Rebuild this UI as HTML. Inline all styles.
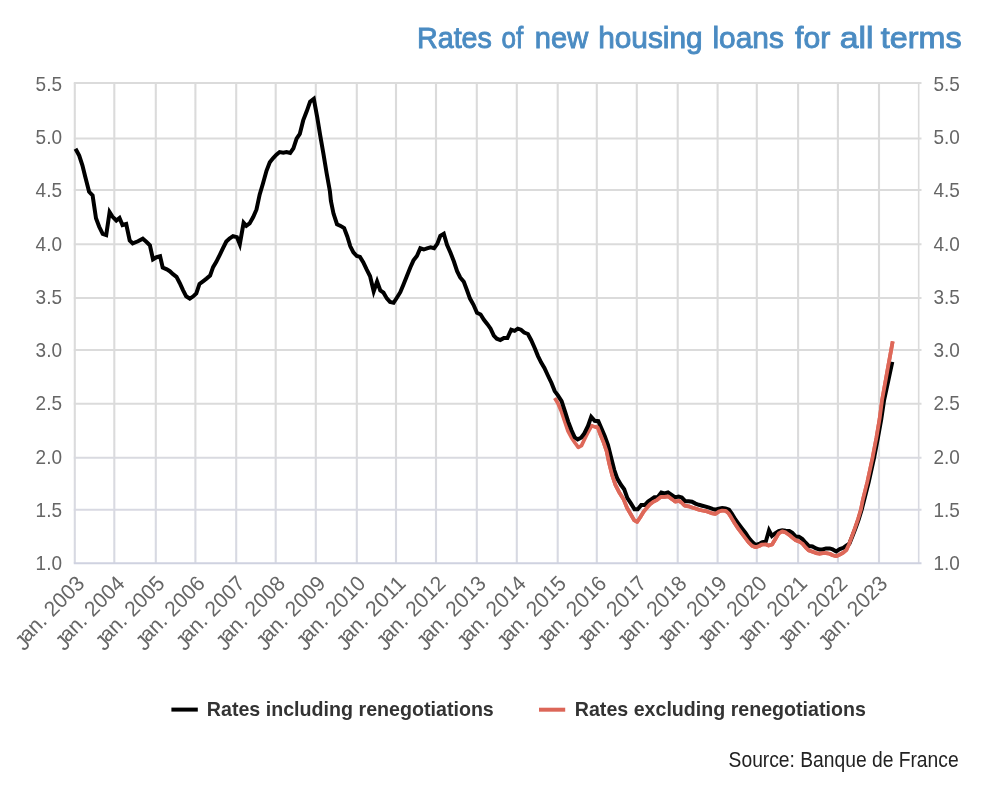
<!DOCTYPE html>
<html><head><meta charset="utf-8"><title>Rates of new housing loans for all terms</title>
<style>html,body{margin:0;padding:0;background:#fff}svg{display:block;will-change:transform}text{font-family:"Liberation Sans",sans-serif}</style></head><body>
<svg width="1000" height="792" viewBox="0 0 1000 792">
<rect width="1000" height="792" fill="#fff"/>
<g font-size="29.5" fill="#4a8bc2" stroke="#4a8bc2" stroke-width="0.9">
<text x="416.97" y="47.8" textLength="74.93" lengthAdjust="spacingAndGlyphs">Rates</text>
<text x="501.58" y="47.8" textLength="21.72" lengthAdjust="spacingAndGlyphs">of</text>
<text x="534.81" y="47.8" textLength="53.41" lengthAdjust="spacingAndGlyphs">new</text>
<text x="598.18" y="47.8" textLength="104.52" lengthAdjust="spacingAndGlyphs">housing</text>
<text x="712.48" y="47.8" textLength="71.34" lengthAdjust="spacingAndGlyphs">loans</text>
<text x="795.06" y="47.8" textLength="35.23" lengthAdjust="spacingAndGlyphs">for</text>
<text x="839.74" y="47.8" textLength="33.72" lengthAdjust="spacingAndGlyphs">all</text>
<text x="880.88" y="47.8" textLength="80.8" lengthAdjust="spacingAndGlyphs">terms</text>
</g>
<defs><linearGradient id="vg" gradientUnits="userSpaceOnUse" x1="0" y1="82.9" x2="0" y2="563.2"><stop offset="0" stop-color="#dbdbdb"/><stop offset="0.72" stop-color="#dbdbdb"/><stop offset="0.86" stop-color="#d9dae1"/><stop offset="1" stop-color="#d7d9e2"/></linearGradient></defs>
<g stroke="url(#vg)" stroke-width="2.1" fill="none">
<path d="M74.8 82.9V563.2"/>
<path d="M114.3 82.9V563.2"/>
<path d="M155.8 82.9V563.2"/>
<path d="M195.4 82.9V563.2"/>
<path d="M236.2 82.9V563.2"/>
<path d="M275.7 82.9V563.2"/>
<path d="M315.8 82.9V563.2"/>
<path d="M356.8 82.9V563.2"/>
<path d="M396.0 82.9V563.2"/>
<path d="M436.0 82.9V563.2"/>
<path d="M476.8 82.9V563.2"/>
<path d="M516.8 82.9V563.2"/>
<path d="M557.7 82.9V563.2"/>
<path d="M596.8 82.9V563.2"/>
<path d="M636.8 82.9V563.2"/>
<path d="M677.7 82.9V563.2"/>
<path d="M717.6 82.9V563.2"/>
<path d="M756.8 82.9V563.2"/>
<path d="M798.1 82.9V563.2"/>
<path d="M837.9 82.9V563.2"/>
<path d="M879.0 82.9V563.2"/>
<path d="M918.7 82.9V563.2" stroke-width="1.6"/>
</g>
<g stroke-width="2" fill="none">
<path d="M73.8 82.9H921.5" stroke="#dbdbdb"/>
<path d="M73.8 138.5H921.5" stroke="#dbdbdb"/>
<path d="M73.8 190.1H921.5" stroke="#dbdbdb"/>
<path d="M73.8 244.2H921.5" stroke="#dbdbdb"/>
<path d="M73.8 298.1H921.5" stroke="#dbdbdb"/>
<path d="M73.8 349.9H921.5" stroke="#dbdbdb"/>
<path d="M73.8 403.8H921.5" stroke="#dbdbdb"/>
<path d="M73.8 457.7H921.5" stroke="#d9dae0"/>
<path d="M73.8 509.8H921.5" stroke="#d8d9e2"/>
</g>
<path d="M73.8 563.2H921.5" stroke="#cfd2e0" stroke-width="1.9" fill="none"/>
<g font-size="21" fill="#666">
<text x="62" y="90.9" text-anchor="end" textLength="26.4" lengthAdjust="spacingAndGlyphs">5.5</text>
<text x="933.5" y="90.9" textLength="26.4" lengthAdjust="spacingAndGlyphs">5.5</text>
<text x="62" y="144.1" text-anchor="end" textLength="26.4" lengthAdjust="spacingAndGlyphs">5.0</text>
<text x="933.5" y="144.1" textLength="26.4" lengthAdjust="spacingAndGlyphs">5.0</text>
<text x="62" y="197.4" text-anchor="end" textLength="26.4" lengthAdjust="spacingAndGlyphs">4.5</text>
<text x="933.5" y="197.4" textLength="26.4" lengthAdjust="spacingAndGlyphs">4.5</text>
<text x="62" y="250.6" text-anchor="end" textLength="26.4" lengthAdjust="spacingAndGlyphs">4.0</text>
<text x="933.5" y="250.6" textLength="26.4" lengthAdjust="spacingAndGlyphs">4.0</text>
<text x="62" y="303.8" text-anchor="end" textLength="26.4" lengthAdjust="spacingAndGlyphs">3.5</text>
<text x="933.5" y="303.8" textLength="26.4" lengthAdjust="spacingAndGlyphs">3.5</text>
<text x="62" y="357.0" text-anchor="end" textLength="26.4" lengthAdjust="spacingAndGlyphs">3.0</text>
<text x="933.5" y="357.0" textLength="26.4" lengthAdjust="spacingAndGlyphs">3.0</text>
<text x="62" y="410.3" text-anchor="end" textLength="26.4" lengthAdjust="spacingAndGlyphs">2.5</text>
<text x="933.5" y="410.3" textLength="26.4" lengthAdjust="spacingAndGlyphs">2.5</text>
<text x="62" y="463.5" text-anchor="end" textLength="26.4" lengthAdjust="spacingAndGlyphs">2.0</text>
<text x="933.5" y="463.5" textLength="26.4" lengthAdjust="spacingAndGlyphs">2.0</text>
<text x="62" y="516.7" text-anchor="end" textLength="26.4" lengthAdjust="spacingAndGlyphs">1.5</text>
<text x="933.5" y="516.7" textLength="26.4" lengthAdjust="spacingAndGlyphs">1.5</text>
<text x="62" y="570.0" text-anchor="end" textLength="26.4" lengthAdjust="spacingAndGlyphs">1.0</text>
<text x="933.5" y="570.0" textLength="26.4" lengthAdjust="spacingAndGlyphs">1.0</text>
</g>
<g font-size="21.5" fill="#666" text-anchor="end">
<g transform="translate(85.5,585.0) rotate(-45)"><text x="-80" y="3.8">J</text><text x="-52.8" textLength="29.2" lengthAdjust="spacingAndGlyphs">an.</text><text x="0.3" textLength="46.5" lengthAdjust="spacingAndGlyphs">2003</text></g>
<g transform="translate(125.7,585.0) rotate(-45)"><text x="-80" y="3.8">J</text><text x="-52.8" textLength="29.2" lengthAdjust="spacingAndGlyphs">an.</text><text x="0.3" textLength="46.5" lengthAdjust="spacingAndGlyphs">2004</text></g>
<g transform="translate(165.8,585.0) rotate(-45)"><text x="-80" y="3.8">J</text><text x="-52.8" textLength="29.2" lengthAdjust="spacingAndGlyphs">an.</text><text x="0.3" textLength="46.5" lengthAdjust="spacingAndGlyphs">2005</text></g>
<g transform="translate(205.9,585.0) rotate(-45)"><text x="-80" y="3.8">J</text><text x="-52.8" textLength="29.2" lengthAdjust="spacingAndGlyphs">an.</text><text x="0.3" textLength="46.5" lengthAdjust="spacingAndGlyphs">2006</text></g>
<g transform="translate(246.1,585.0) rotate(-45)"><text x="-80" y="3.8">J</text><text x="-52.8" textLength="29.2" lengthAdjust="spacingAndGlyphs">an.</text><text x="0.3" textLength="46.5" lengthAdjust="spacingAndGlyphs">2007</text></g>
<g transform="translate(286.2,585.0) rotate(-45)"><text x="-80" y="3.8">J</text><text x="-52.8" textLength="29.2" lengthAdjust="spacingAndGlyphs">an.</text><text x="0.3" textLength="46.5" lengthAdjust="spacingAndGlyphs">2008</text></g>
<g transform="translate(326.4,585.0) rotate(-45)"><text x="-80" y="3.8">J</text><text x="-52.8" textLength="29.2" lengthAdjust="spacingAndGlyphs">an.</text><text x="0.3" textLength="46.5" lengthAdjust="spacingAndGlyphs">2009</text></g>
<g transform="translate(366.6,585.0) rotate(-45)"><text x="-80" y="3.8">J</text><text x="-52.8" textLength="29.2" lengthAdjust="spacingAndGlyphs">an.</text><text x="0.3" textLength="46.5" lengthAdjust="spacingAndGlyphs">2010</text></g>
<g transform="translate(406.7,585.0) rotate(-45)"><text x="-80" y="3.8">J</text><text x="-52.8" textLength="29.2" lengthAdjust="spacingAndGlyphs">an.</text><text x="0.3" textLength="46.5" lengthAdjust="spacingAndGlyphs">2011</text></g>
<g transform="translate(446.8,585.0) rotate(-45)"><text x="-80" y="3.8">J</text><text x="-52.8" textLength="29.2" lengthAdjust="spacingAndGlyphs">an.</text><text x="0.3" textLength="46.5" lengthAdjust="spacingAndGlyphs">2012</text></g>
<g transform="translate(487.0,585.0) rotate(-45)"><text x="-80" y="3.8">J</text><text x="-52.8" textLength="29.2" lengthAdjust="spacingAndGlyphs">an.</text><text x="0.3" textLength="46.5" lengthAdjust="spacingAndGlyphs">2013</text></g>
<g transform="translate(527.1,585.0) rotate(-45)"><text x="-80" y="3.8">J</text><text x="-52.8" textLength="29.2" lengthAdjust="spacingAndGlyphs">an.</text><text x="0.3" textLength="46.5" lengthAdjust="spacingAndGlyphs">2014</text></g>
<g transform="translate(567.3,585.0) rotate(-45)"><text x="-80" y="3.8">J</text><text x="-52.8" textLength="29.2" lengthAdjust="spacingAndGlyphs">an.</text><text x="0.3" textLength="46.5" lengthAdjust="spacingAndGlyphs">2015</text></g>
<g transform="translate(607.4,585.0) rotate(-45)"><text x="-80" y="3.8">J</text><text x="-52.8" textLength="29.2" lengthAdjust="spacingAndGlyphs">an.</text><text x="0.3" textLength="46.5" lengthAdjust="spacingAndGlyphs">2016</text></g>
<g transform="translate(647.6,585.0) rotate(-45)"><text x="-80" y="3.8">J</text><text x="-52.8" textLength="29.2" lengthAdjust="spacingAndGlyphs">an.</text><text x="0.3" textLength="46.5" lengthAdjust="spacingAndGlyphs">2017</text></g>
<g transform="translate(687.8,585.0) rotate(-45)"><text x="-80" y="3.8">J</text><text x="-52.8" textLength="29.2" lengthAdjust="spacingAndGlyphs">an.</text><text x="0.3" textLength="46.5" lengthAdjust="spacingAndGlyphs">2018</text></g>
<g transform="translate(727.9,585.0) rotate(-45)"><text x="-80" y="3.8">J</text><text x="-52.8" textLength="29.2" lengthAdjust="spacingAndGlyphs">an.</text><text x="0.3" textLength="46.5" lengthAdjust="spacingAndGlyphs">2019</text></g>
<g transform="translate(768.0,585.0) rotate(-45)"><text x="-80" y="3.8">J</text><text x="-52.8" textLength="29.2" lengthAdjust="spacingAndGlyphs">an.</text><text x="0.3" textLength="46.5" lengthAdjust="spacingAndGlyphs">2020</text></g>
<g transform="translate(808.2,585.0) rotate(-45)"><text x="-80" y="3.8">J</text><text x="-52.8" textLength="29.2" lengthAdjust="spacingAndGlyphs">an.</text><text x="0.3" textLength="46.5" lengthAdjust="spacingAndGlyphs">2021</text></g>
<g transform="translate(848.4,585.0) rotate(-45)"><text x="-80" y="3.8">J</text><text x="-52.8" textLength="29.2" lengthAdjust="spacingAndGlyphs">an.</text><text x="0.3" textLength="46.5" lengthAdjust="spacingAndGlyphs">2022</text></g>
<g transform="translate(888.5,585.0) rotate(-45)"><text x="-80" y="3.8">J</text><text x="-52.8" textLength="29.2" lengthAdjust="spacingAndGlyphs">an.</text><text x="0.3" textLength="46.5" lengthAdjust="spacingAndGlyphs">2023</text></g>
</g>
<clipPath id="cr"><rect x="595" y="300" width="355" height="300"/></clipPath>
<polyline points="554.7,398.0 557.9,403.3 561.2,410.9 564.4,420.5 568.0,431.2 571.5,437.7 575.1,443.0 578.3,447.3 581.5,445.6 584.8,438.8 588.0,432.3 591.7,425.6 594.7,426.9 597.7,427.4 600.4,434.5 603.6,442.4 606.6,451.2 609.2,463.6 612.4,476.0 615.4,484.8 619.0,491.9 623.4,498.9 627.0,507.8 630.6,514.0 634.1,520.1 637.1,521.9 640.1,517.5 643.3,512.2 646.8,507.8 650.0,504.2 653.6,501.6 657.1,499.8 661.0,496.8 664.5,496.8 668.0,496.3 671.6,498.9 675.1,501.6 679.0,500.9 681.8,502.8 684.7,505.7 688.6,506.3 692.0,507.4 695.5,508.5 698.9,509.7 702.3,510.5 705.7,511.1 709.1,512.3 712.5,513.4 715.3,513.9 718.8,511.6 722.2,510.5 725.6,510.8 728.4,513.1 731.3,517.6 734.7,523.3 738.1,528.4 741.5,533.0 744.9,537.5 748.3,542.0 752.0,545.7 755.7,547.2 759.1,546.0 761.9,544.5 765.5,544.3 768.6,545.6 772.1,544.5 775.1,539.5 778.7,533.4 782.2,531.4 785.7,532.4 789.3,534.9 792.3,537.5 795.8,540.3 798.9,541.5 802.4,543.5 805.4,547.1 809.0,550.6 812.5,551.8 816.0,553.1 819.6,553.8 822.6,553.1 826.1,553.1 829.7,553.8 832.7,555.2 836.2,556.2 839.8,554.6 843.3,552.6 846.3,550.1 848.9,544.5 851.9,536.5 854.9,528.4 858.0,519.3 861.0,509.2 862.9,499.7 867.3,482.1 872.5,458.1 876.4,437.9 879.6,418.9 882.1,400.0 887.4,370.7 892.7,341.4" fill="none" stroke="#de6859" stroke-width="3.7" stroke-linejoin="round" stroke-linecap="butt"/>
<polyline points="75.5,148.7 79.2,155.6 82.4,165.3 85.5,177.7 89.1,191.8 92.6,195.4 96.0,218.3 99.2,226.8 102.7,233.9 106.2,235.1 109.6,212.1 112.4,216.6 116.3,220.5 119.5,218.0 122.5,225.0 126.2,224.0 129.7,240.4 132.7,243.4 138.0,241.3 142.8,238.7 146.3,241.7 149.9,245.2 153.0,259.3 156.6,257.2 160.1,256.3 162.7,267.5 166.8,269.3 169.8,271.2 173.0,274.2 176.5,276.9 179.7,283.0 183.0,290.1 186.2,296.3 189.8,298.6 193.3,296.3 196.3,293.3 199.5,283.9 203.0,281.3 206.5,278.6 210.1,275.6 213.1,267.1 216.3,261.8 219.8,254.8 223.0,248.1 226.3,241.5 229.5,238.5 233.0,236.2 236.9,237.1 239.8,244.3 243.6,222.8 246.3,225.9 249.6,223.4 253.2,217.0 256.5,209.5 259.7,194.4 262.9,183.7 266.5,170.8 269.8,162.3 273.2,158.0 276.4,154.7 279.6,152.0 283.3,152.6 286.5,152.0 290.2,153.0 293.4,148.3 296.6,138.6 299.8,133.9 303.2,120.4 306.9,110.8 310.1,101.7 313.8,98.9 317.2,117.2 320.2,135.4 323.4,153.7 326.6,173.0 329.9,191.2 330.9,200.9 333.5,213.6 337.0,224.2 340.6,225.9 344.1,228.1 347.3,236.5 350.3,246.3 353.4,252.4 356.8,256.0 360.0,256.9 363.2,262.2 366.5,269.2 370.1,276.3 372.0,284.2 373.7,291.4 377.1,281.5 380.3,290.4 383.5,292.7 386.8,298.4 390.0,301.9 393.6,302.8 396.7,298.0 400.3,292.2 403.6,284.2 406.8,276.3 410.3,267.5 413.5,260.4 416.9,256.0 420.3,248.3 423.8,249.5 427.0,248.3 430.6,247.4 434.1,248.3 437.3,243.9 440.3,235.9 443.8,233.8 447.0,244.7 450.5,252.7 453.9,261.5 457.1,271.2 460.2,277.4 463.8,281.8 466.8,289.8 470.0,298.6 473.5,304.8 477.0,312.8 480.6,314.5 483.9,319.8 487.4,324.2 490.6,328.7 493.8,335.7 496.8,338.7 500.3,340.1 503.9,338.0 507.4,338.0 511.2,329.7 514.6,330.8 517.8,328.7 521.0,329.7 524.2,332.5 527.9,334.0 531.1,340.0 534.8,348.2 538.0,356.1 541.2,362.6 544.4,367.9 547.9,375.5 551.5,383.0 554.7,391.1 557.9,395.4 561.6,401.2 564.8,410.9 568.2,421.6 571.5,430.2 574.7,437.3 577.7,439.4 581.1,437.7 584.3,433.4 588.0,426.0 591.2,416.8 594.7,420.8 598.3,421.2 601.4,428.3 604.8,436.2 608.0,445.1 611.1,457.4 614.2,469.8 617.3,478.6 620.9,484.8 624.2,489.2 627.4,498.1 630.9,503.4 634.5,509.2 637.7,509.2 641.2,505.1 644.7,505.1 648.1,501.6 651.3,499.3 654.4,497.2 657.8,496.9 661.3,492.5 664.5,493.4 668.0,492.5 671.6,494.8 675.1,497.4 678.6,496.5 681.8,497.4 685.2,501.2 688.6,501.2 692.0,501.7 695.5,503.6 698.9,504.8 702.3,505.7 705.7,506.6 709.1,507.7 712.5,508.9 715.3,509.7 718.8,508.6 722.2,508.1 725.6,508.4 729.0,509.7 731.8,513.6 735.2,519.3 738.6,523.9 742.0,528.4 745.5,533.0 748.9,538.1 752.3,542.0 755.7,544.9 759.1,543.9 761.9,542.4 765.9,541.2 769.0,530.4 771.9,536.0 775.1,533.4 778.7,531.2 782.2,530.2 785.7,530.7 789.3,530.9 792.3,532.9 795.8,536.6 798.9,536.7 802.4,539.0 805.4,542.5 809.0,546.1 812.5,546.4 816.0,548.4 819.6,549.6 822.6,549.5 826.1,548.4 829.7,548.4 832.7,549.4 836.2,551.4 839.8,549.1 843.3,547.8 846.3,545.6 849.4,543.6 852.4,536.3 855.5,528.4 858.7,519.3 861.8,509.2 864.2,499.7 868.7,482.1 874.0,458.1 877.9,437.9 881.3,418.9 884.1,400.0 888.2,381.0 892.3,361.8" fill="none" stroke="#000" stroke-width="4.0" stroke-linejoin="miter" stroke-miterlimit="10" stroke-linecap="butt"/>
<polyline points="554.7,398.0 557.9,403.3 561.2,410.9 564.4,420.5 568.0,431.2 571.5,437.7 575.1,443.0 578.3,447.3 581.5,445.6 584.8,438.8 588.0,432.3 591.7,425.6 594.7,426.9 597.7,427.4 600.4,434.5 603.6,442.4 606.6,451.2 609.2,463.6 612.4,476.0 615.4,484.8 619.0,491.9 623.4,498.9 627.0,507.8 630.6,514.0 634.1,520.1 637.1,521.9 640.1,517.5 643.3,512.2 646.8,507.8 650.0,504.2 653.6,501.6 657.1,499.8 661.0,496.8 664.5,496.8 668.0,496.3 671.6,498.9 675.1,501.6 679.0,500.9 681.8,502.8 684.7,505.7 688.6,506.3 692.0,507.4 695.5,508.5 698.9,509.7 702.3,510.5 705.7,511.1 709.1,512.3 712.5,513.4 715.3,513.9 718.8,511.6 722.2,510.5 725.6,510.8 728.4,513.1 731.3,517.6 734.7,523.3 738.1,528.4 741.5,533.0 744.9,537.5 748.3,542.0 752.0,545.7 755.7,547.2 759.1,546.0 761.9,544.5 765.5,544.3 768.6,545.6 772.1,544.5 775.1,539.5 778.7,533.4 782.2,531.4 785.7,532.4 789.3,534.9 792.3,537.5 795.8,540.3 798.9,541.5 802.4,543.5 805.4,547.1 809.0,550.6 812.5,551.8 816.0,553.1 819.6,553.8 822.6,553.1 826.1,553.1 829.7,553.8 832.7,555.2 836.2,556.2 839.8,554.6 843.3,552.6 846.3,550.1 848.9,544.5 851.9,536.5 854.9,528.4 858.0,519.3 861.0,509.2 862.9,499.7 867.3,482.1 872.5,458.1 876.4,437.9 879.6,418.9 882.1,400.0 887.4,370.7 892.7,341.4" fill="none" stroke="#de6859" stroke-width="3.7" stroke-linejoin="round" stroke-linecap="butt" clip-path="url(#cr)"/>
<line x1="171.4" y1="709.6" x2="197.8" y2="709.6" stroke="#000" stroke-width="4"/>
<text x="206.8" y="716.4" font-size="20.5" font-weight="bold" fill="#333" textLength="287" lengthAdjust="spacingAndGlyphs">Rates including renegotiations</text>
<line x1="539" y1="709.7" x2="565.2" y2="709.7" stroke="#dc6658" stroke-width="4"/>
<text x="574.8" y="716.4" font-size="20.5" font-weight="bold" fill="#333" textLength="291" lengthAdjust="spacingAndGlyphs">Rates excluding renegotiations</text>
<text x="958.6" y="767.4" text-anchor="end" font-size="22" fill="#222" textLength="230" lengthAdjust="spacingAndGlyphs">Source: Banque de France</text>
</svg></body></html>
